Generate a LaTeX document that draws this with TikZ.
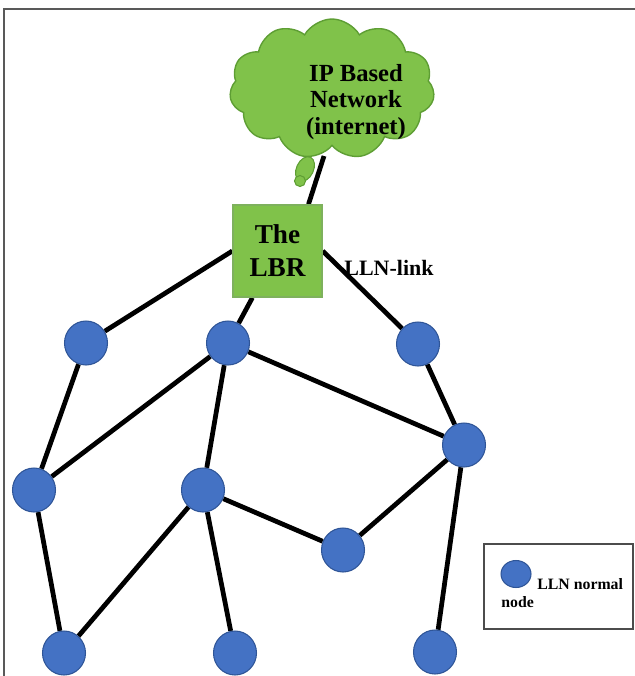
\documentclass[tikz,border=0pt]{standalone}
\usepackage{fontspec}
\setmainfont{Liberation Serif}
\usepackage{xcolor}
\usetikzlibrary{
    shapes.geometric,
    shapes.symbols,
    backgrounds,
    calc,
    positioning
}
\definecolor{cloudgreen}{HTML}{80C24A}
\definecolor{cloudedge}{HTML}{5E9E34}
\definecolor{lnnblue}{HTML}{4472C4}
\definecolor{lnnedge}{HTML}{2F5597}
\tikzset{
    lln/.style={ellipse, fill=lnnblue, draw=lnnedge, line width=0.6pt,
        minimum width=0.86cm, minimum height=0.88cm, inner sep=0pt},
    link/.style={line width=2.7pt, black},
    bold/.style={font=\bfseries, inner sep=0pt}
}

\begin{document}
\begin{tikzpicture}[x=0.02cm, y=-0.02cm]
    \useasboundingbox (0, 0) rectangle (635, 676);
    \draw[line width=1.2pt, black!65] (4, 676) -- (4, 9) -- (635, 9);

    % internet cloud with its tail
    \node[cloud, cloud puffs=11, cloud puff arc=120, aspect=1.5,
        fill=cloudgreen, draw=cloudedge, line width=0.8pt,
        minimum width=4.1cm, minimum height=2.8cm] (net) at (332, 89) {};
    \node[bold, align=center, font=\bfseries\fontsize{14}{15}\selectfont]
        (netlabel) at (356, 102) {IP Based\\Network\\(internet)};
    \node[ellipse, fill=cloudgreen, draw=cloudedge, line width=0.6pt, rotate=-25,
        minimum width=0.34cm, minimum height=0.52cm, inner sep=0pt] (bubblea) at (305, 169) {};
    \node[circle, fill=cloudgreen, draw=cloudedge, line width=0.6pt,
        minimum size=0.22cm, inner sep=0pt] (bubbleb) at (300, 181) {};
    \coordinate (nettail) at (324, 156);

    % border router
    \node[rectangle, fill=cloudgreen, draw=cloudedge!80, line width=0.8pt,
        minimum width=1.78cm, minimum height=1.84cm, align=center,
        font=\bfseries\fontsize{15.5}{18.7}\selectfont] (lbr) at (277.5, 251) {The\\LBR};
    \node[bold, font=\bfseries\fontsize{12.5}{14}\selectfont] (linklabel) at (389, 268) {LLN-link};

    % LLN nodes
    \node[lln] (a) at (86, 343) {};
    \node[lln] (b) at (228, 343) {};
    \node[lln] (c) at (418, 344) {};
    \node[lln] (d) at (464, 445) {};
    \node[lln] (e) at (34, 490) {};
    \node[lln] (f) at (203, 490) {};
    \node[lln] (g) at (343, 550) {};
    \node[lln] (h) at (64, 653) {};
    \node[lln] (i) at (235, 653) {};
    \node[lln] (j) at (435, 652) {};

    % legend
    \draw[line width=0.6pt, black!70] (484, 544) rectangle (633, 629);
    \node[lln, minimum width=0.6cm, minimum height=0.54cm] (legnode) at (516, 574) {};
    \node[bold, anchor=base west, font=\bfseries\fontsize{9}{11}\selectfont]
        (legtexta) at (537, 589) {LLN normal};
    \node[bold, anchor=base west, font=\bfseries\fontsize{9}{11}\selectfont]
        (legtextb) at (501, 607) {node};

    \begin{scope}[on background layer]
        \draw[link] (nettail) -- ([xshift=0.62cm]lbr.north);
        \draw[link] (lbr.west) -- (a);
        \draw[link] (lbr) -- (b);
        \draw[link] (lbr.east) -- (c);
        \draw[link] (a) -- (e);
        \draw[link] (b) -- (e);
        \draw[link] (b) -- (f);
        \draw[link] (b) -- (d);
        \draw[link] (c) -- (d);
        \draw[link] (d) -- (g);
        \draw[link] (d) -- (j);
        \draw[link] (f) -- (g);
        \draw[link] (f) -- (h);
        \draw[link] (f) -- (i);
        \draw[link] (e) -- (h);
    \end{scope}
\end{tikzpicture}
\end{document}
